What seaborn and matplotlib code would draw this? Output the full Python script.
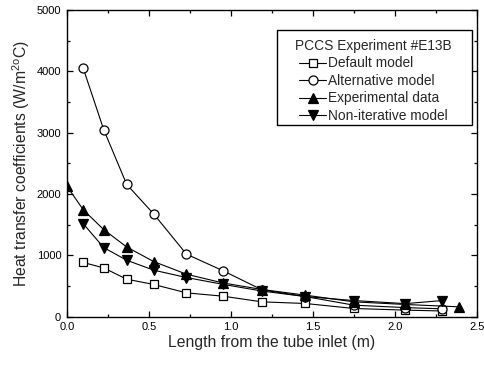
import matplotlib
matplotlib.use("Agg")
import matplotlib.pyplot as plt
from matplotlib.patches import Rectangle
from matplotlib.ticker import MultipleLocator
import seaborn as sns
import pandas as pd

# Axial positions along the condenser tube (m)
x_model = [0.10, 0.225, 0.365, 0.53, 0.73, 0.95, 1.19, 1.455, 1.75, 2.065, 2.29]
x_exp = [0.0, 0.10, 0.225, 0.365, 0.53, 0.73, 0.95, 1.19, 1.455, 1.75, 2.065, 2.39]

# Heat transfer coefficients (W/m2 C)
default_model = [885, 797, 613, 527, 390, 337, 244, 217, 136, 109, 95]
alternative_model = [4050, 3050, 2158, 1675, 1020, 754, 440, 330, 190, 150, 130]
experimental = [2130, 1745, 1421, 1138, 900, 694, 553, 445, 353, 244, 201, 163]
non_iterative = [1518, 1128, 922, 760, 640, 530, 420, 330, 265, 215, 265]

series = [
    ("Default model", x_model, default_model, "s", "white", 6.0),
    ("Alternative model", x_model, alternative_model, "o", "white", 6.5),
    ("Experimental data", x_exp, experimental, "^", "black", 7.0),
    ("Non-iterative model", x_model, non_iterative, "v", "black", 7.0),
]

sns.set_theme(style="ticks")
plt.rcParams["font.family"] = ["Liberation Sans", "DejaVu Sans"]
plt.rcParams["mathtext.fontset"] = "custom"
plt.rcParams["mathtext.rm"] = "Liberation Sans"
plt.rcParams["mathtext.it"] = "Liberation Sans:italic"

fig = plt.figure(figsize=(4.84, 3.65), dpi=100)
ax = fig.add_axes([0.138, 0.132, 0.847, 0.841])

for name, xs, ys, mk, fc, ms in series:
    df = pd.DataFrame({"x": xs, "y": ys})
    sns.lineplot(data=df, x="x", y="y", ax=ax, color="black", lw=0.8,
                 marker=mk, markersize=ms, markerfacecolor=fc,
                 markeredgecolor="black", markeredgewidth=0.9,
                 label=name)

# markers sitting on the frame are cut at the plot edge
for line in ax.lines:
    line.set_clip_on(True)
    line.set_clip_box(ax.bbox)
    line.set_clip_path(ax.patch)

ax.set_xlim(0, 2.5)
ax.set_ylim(0, 5000)
ax.xaxis.set_major_locator(MultipleLocator(0.5))
ax.xaxis.set_minor_locator(MultipleLocator(0.25))
ax.yaxis.set_major_locator(MultipleLocator(1000))
ax.yaxis.set_minor_locator(MultipleLocator(500))
ax.xaxis.set_major_formatter(matplotlib.ticker.FormatStrFormatter("%.1f"))
ax.tick_params(which="both", direction="in", top=True, right=True,
               colors="black", labelsize=8, width=0.9)
ax.tick_params(which="major", length=4.5, pad=4)
ax.tick_params(which="minor", length=2.5)
for sp in ax.spines.values():
    sp.set_color("black")
    sp.set_linewidth(1.0)

ax.set_xlabel("Length from the tube inlet (m)", fontsize=11.3, labelpad=2)
ax.set_ylabel(r"Heat transfer coefficients (W/m$^{\mathrm{2o}}$C)",
              fontsize=11.3, labelpad=3)

# Legend entries without their own frame; a wider box is drawn around them
leg = ax.legend(title="PCCS Experiment #E13B", loc="upper left",
                bbox_to_anchor=(0.557, 0.905), fontsize=9.9, title_fontsize=9.9,
                frameon=False, handlelength=2.0, handletextpad=0.15,
                labelspacing=0.25, borderpad=0.0, borderaxespad=0)
box = Rectangle((0.513, 0.625), 0.4756, 0.31, transform=ax.transAxes,
                facecolor="white", edgecolor="black", linewidth=1.0, zorder=4)
ax.add_patch(box)
leg.set_zorder(5)

fig.savefig("out.png", dpi=100)
